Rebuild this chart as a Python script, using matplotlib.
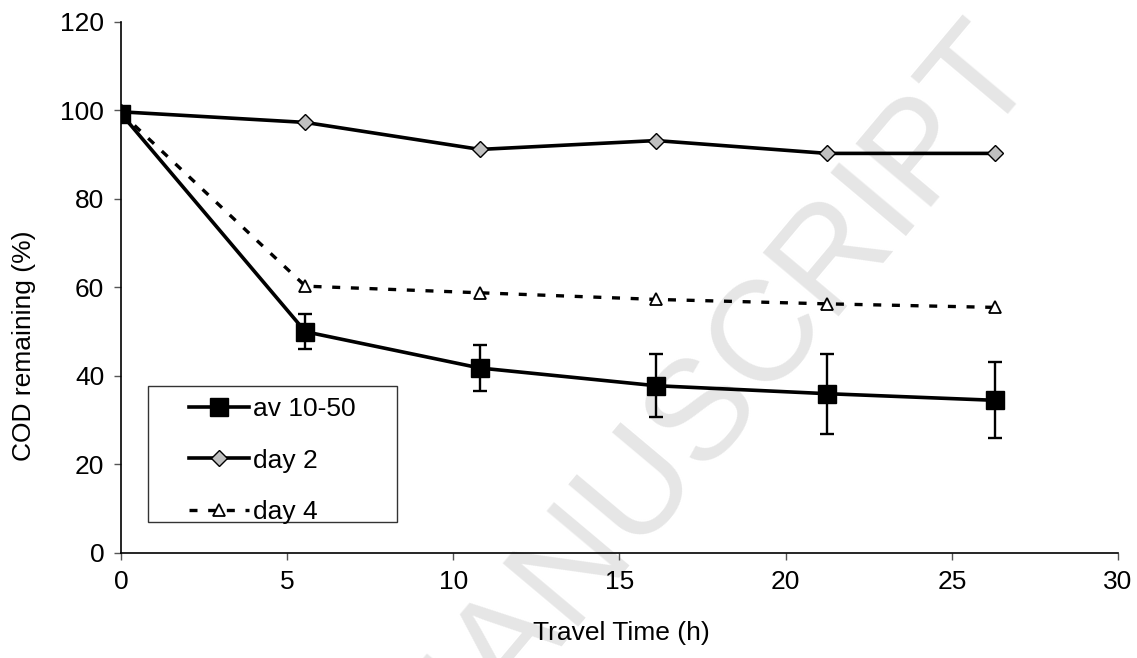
import matplotlib
matplotlib.use('Agg')
import matplotlib.pyplot as plt
from matplotlib.patches import Rectangle

# data
time_h = [0, 5.55, 10.8, 16.1, 21.25, 26.3]
av_10_50 = [99.3, 50.0, 41.8, 37.8, 36.0, 34.5]
av_err = [0, 4.0, 5.3, 7.1, 9.0, 8.6]
day_2 = [99.7, 97.3, 91.2, 93.2, 90.3, 90.3]
day_4 = [99.5, 60.3, 58.8, 57.3, 56.3, 55.5]

x_ticks = [0, 5, 10, 15, 20, 25, 30]
y_ticks = [0, 20, 40, 60, 80, 100, 120]

plt.rcParams['font.family'] = ['Liberation Sans', 'DejaVu Sans']

fig = plt.figure(figsize=(11.37, 6.58), dpi=100)
ax = fig.add_axes([0.1064, 0.1596, 0.8769, 0.807])

# faint watermark behind the plot
fig.text(0.62, 0.385, 'MANUSCRIPT', fontsize=103, color='#e6e6e6',
         rotation=50, ha='center', va='center', rotation_mode='anchor', zorder=-1)

ax.plot(time_h, day_2, color='black', lw=2.6, marker='D', ms=8,
        mfc='#c0c0c0', mec='black', mew=1.0, label='day 2', zorder=3)
ax.plot(time_h, day_4, color='black', lw=2.4, ls=(0, (2.4, 3.2)), marker='^', ms=9,
        mfc='white', mec='black', mew=1.3, label='day 4', zorder=3)
ax.errorbar(time_h, av_10_50, yerr=av_err, fmt='none', ecolor='black',
            elinewidth=1.7, capsize=5, capthick=1.7, zorder=4)
ax.plot(time_h, av_10_50, color='black', lw=2.6, marker='s', ms=13,
        mfc='black', mec='black', label='av 10-50', zorder=4)

ax.set_xlim(0, 30)
ax.set_ylim(0, 120)
ax.set_xticks(x_ticks)
ax.set_yticks(y_ticks)
ax.spines['top'].set_visible(False)
ax.spines['right'].set_visible(False)
ax.spines['left'].set_linewidth(1.2)
ax.spines['bottom'].set_linewidth(1.2)
ax.tick_params(direction='out', length=5, width=1, color='#555555', labelsize=19, pad=7)
ax.patch.set_alpha(0)

ax.set_xlabel('Travel Time (h)', fontsize=19)
ax.xaxis.set_label_coords(0.502, -0.128)
ax.set_ylabel('COD remaining (%)', fontsize=19)
ax.yaxis.set_label_coords(-0.085, 0.39)

# legend box drawn separately so the entries can sit inset like the original
ax.add_patch(Rectangle((0.027, 0.058), 0.25, 0.256, transform=ax.transAxes,
                       fill=False, edgecolor='#333333', lw=1.0, zorder=5))
handles, labels = ax.get_legend_handles_labels()
order = [labels.index('av 10-50'), labels.index('day 2'), labels.index('day 4')]
leg = ax.legend([handles[i] for i in order], [labels[i] for i in order],
                loc='upper left', bbox_to_anchor=(0.068, 0.294),
                fontsize=19, frameon=False, handlelength=2.3, handletextpad=0.15,
                labelspacing=1.05, borderpad=0, borderaxespad=0)

fig.savefig('out.png', dpi=100)
